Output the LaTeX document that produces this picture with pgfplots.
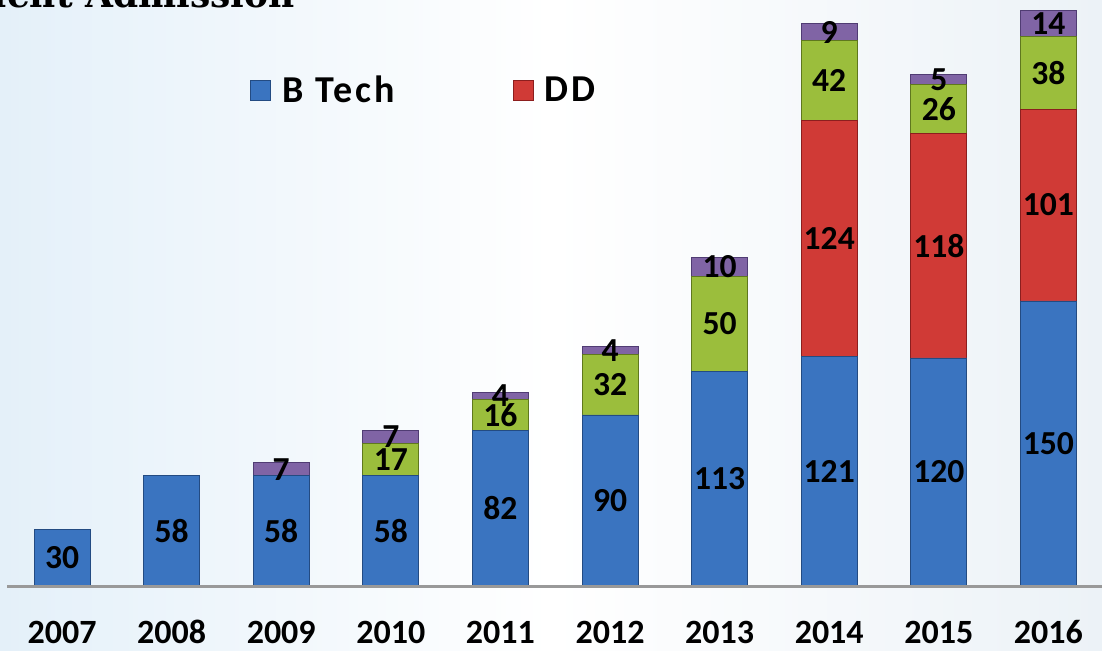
\documentclass[border=0pt]{standalone}
\usepackage{fontspec}
\setmainfont{Carlito}
\newfontfamily\titlefont{DejaVu Serif}
\newfontfamily\legfont[LetterSpace=7.5]{Carlito}
\usepackage{pgfplots}
\usepackage{pgfplotstable}
\pgfplotsset{compat=1.18}
\definecolor{cblue}{RGB}{58,116,192}
\definecolor{cbluedk}{RGB}{35,75,130}
\definecolor{cred}{RGB}{208,58,54}
\definecolor{creddk}{RGB}{140,30,30}
\definecolor{cgreen}{RGB}{155,190,60}
\definecolor{cgreendk}{RGB}{95,120,30}
\definecolor{cpurple}{RGB}{128,100,165}
\definecolor{cpurpledk}{RGB}{80,60,115}
\pgfplotstableread{
x btech dd green purple
0 30 0 0 0
1 58 0 0 0
2 58 0 0 7
3 58 0 17 7
4 82 0 16 4
5 90 0 32 4
6 113 0 50 10
7 121 124 42 9
8 120 118 26 5
9 150 101 38 14
}\data
\begin{document}
\begin{tikzpicture}
\useasboundingbox (0pt,-32pt) rectangle (551pt,293pt);
\shade[left color={rgb,255:red,228;green,240;blue,249}, right color={rgb,255:red,236;green,242;blue,247}, middle color=white] (0pt,-32pt) rectangle (551pt,293pt);
\node[font=\titlefont\bfseries\fontsize{18}{20}\selectfont, anchor=base east, inner sep=0pt] at (147.5pt,289pt) {Student Admission};
\begin{axis}[
  at={(0pt,0pt)}, anchor=south west,
  scale only axis, width=551pt, height=293pt,
  xmin=-0.566, xmax=9.489, ymin=0, ymax=308.4,
  ybar stacked, bar width=28pt,
  axis line style={draw=none},
  clip=false,
  ytick=\empty,
  xtick={0,...,9},
  xticklabels={2007,2008,2009,2010,2011,2012,2013,2014,2015,2016},
  major tick length=0pt,
  xticklabel style={anchor=center, yshift=-23pt, font=\bfseries\fontsize{17}{17}\selectfont},
  /pgf/number format/assume math mode=true,
  nodes near coords,
  every node near coord/.append style={
    font=\bfseries\fontsize{16.8}{16.8}\selectfont, text=black, anchor=center,
    check for zero/.code={\pgfmathfloatifflags{\pgfplotspointmeta}{0}{\pgfkeys{/tikz/coordinate}}{}},
    check for zero
  },
  legend columns=2,
  legend style={draw=none, fill=none, inner sep=0pt, at={(0.2269,0.846)}, anchor=west,
    font=\legfont\bfseries\fontsize{19}{19}\selectfont,
    /tikz/every odd column/.append style={column sep=3.5pt},
    /tikz/every even column/.append style={column sep=57pt}},
  legend image code/.code={\draw[#1, line width=0.5pt] (0pt,-5pt) rectangle (10pt,5pt);},
]
\draw[black!40, line width=1.5pt] (rel axis cs:0.0064,0) -- (rel axis cs:1,0);
\addplot[fill=cblue, draw=cbluedk] table[x=x, y=btech] {\data};
\addplot[fill=cred, draw=creddk] table[x=x, y=dd] {\data};
\addplot[fill=cgreen, draw=cgreendk] table[x=x, y=green] {\data};
\addplot[fill=cpurple, draw=cpurpledk] table[x=x, y=purple] {\data};
\legend{B Tech, DD}
\end{axis}
\end{tikzpicture}
\end{document}
